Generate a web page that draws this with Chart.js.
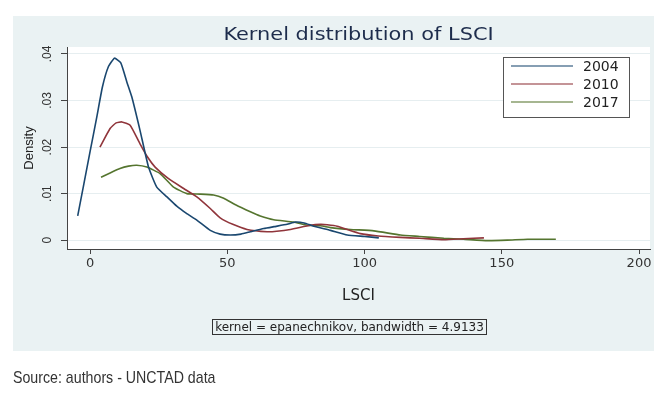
<!DOCTYPE html>
<html>
<head>
<meta charset="utf-8">
<script src="https://cdn.jsdelivr.net/npm/chart.js@4.4.1/dist/chart.umd.min.js"></script>
<style>
  body { margin: 0; background: #fff; }
  #wrap { position: relative; width: 654px; height: 402px; }
  #source {
    position: absolute; left: 13px; top: 368px;
    font: 17px "Liberation Sans Narrow", "Liberation Sans", Arial, sans-serif;
    color: #333;
    white-space: nowrap;
    transform: scaleX(0.835);
    transform-origin: left top;
  }
</style>
</head>
<body>
<div id="wrap">
  <canvas id="kdens" width="654" height="402"></canvas>
  <div id="source">Source: authors - UNCTAD data</div>
</div>
<script>
// density curves
const years = ["2004", "2010", "2017"];

const x2004 = [-4.5, 0, 2.5, 4.5, 6.7, 8.9, 11.2, 13.4, 15.2, 18.2, 21.3, 24.3, 28, 31.6, 35, 38.9, 43.8, 47.4, 51.1, 55, 58.4, 63.3, 67, 71.8, 74.8, 78, 81.5, 87.6, 93.7, 100, 105.2];
const y2004 = [.0052, .019, .0266, .0329, .0373, .0391, .0381, .034, .0308, .0236, .0157, .0114, .0093, .0073, .0058, .0043, .0021, .0013, .0011, .0013, .0018, .0025, .0029, .0034, .0039, .0037, .003, .0021, .0011, .0008, .0005];

const x2010 = [3.6, 7.3, 9.5, 11.6, 14.6, 18.2, 21, 23.7, 28.6, 34.1, 38.9, 43.8, 47.4, 52, 57.2, 64.5, 68, 73, 80.3, 84, 86.4, 90, 98.5, 105, 113.1, 120, 128.9, 136, 143.5];
const y2010 = [.020, .024, .0252, .0254, .0247, .0207, .0178, .0157, .0132, .0111, .0093, .0068, .0048, .0034, .0023, .0018, .0019, .0023, .0032, .0034, .0033, .003, .0014, .0009, .0006, .0004, .0001, .0003, .0005];

const x2017 = [4, 7.5, 10.9, 14, 17, 20.7, 25.5, 30.4, 35.3, 40, 45, 48.7, 53, 58.4, 62, 66.9, 74.2, 79.1, 83.9, 87.6, 94.9, 103.4, 113.1, 120, 128.9, 136, 144.8, 152, 159.4, 169.7];
const y2017 = [.0135, .0145, .0154, .0159, .0161, .0157, .0143, .0114, .0100, .0099, .0097, .009, .0076, .0061, .0052, .0044, .0039, .0032, .0031, .0027, .0023, .002, .0011, .0008, .0004, .0002, -.0001, 0, .0002, .0002];

const xTicks = [0, 50, 100, 150, 200];
const yTicks = [0, .01, .02, .03, .04];
const yTickLabels = ["0", ".01", ".02", ".03", ".04"];

const colors = ["#1a476f", "#90353b", "#55752f"];
const noteText = "kernel = epanechnikov, bandwidth = 4.9133";

function pts(xs, ys) {
    return xs.map((x, i) => ({ x: x, y: ys[i] }));
}

// stata-like panel: light blue page, white plot region
const backdrop = {
    id: "backdrop",
    beforeDraw(chart) {
        const ctx = chart.ctx;
        const a = chart.chartArea;
        ctx.save();
        ctx.fillStyle = "#eaf2f3";
        ctx.fillRect(13, 16, 641, 335);
        ctx.fillStyle = "#ffffff";
        ctx.fillRect(a.left, a.top, a.right - a.left, a.bottom - a.top);
        ctx.restore();
    }
};

const extras = {
    id: "extras",
    afterDraw(chart) {
        const ctx = chart.ctx;
        const a = chart.chartArea;
        const ys = chart.scales.y;
        ctx.save();

        // title (stretched a bit, like the original export)
        ctx.save();
        ctx.fillStyle = "#1d2c4c";
        ctx.font = "18px 'DejaVu Sans'";
        ctx.textAlign = "center";
        ctx.textBaseline = "middle";
        ctx.translate((a.left + a.right) / 2, 35);
        ctx.scale(1.16, 1);
        ctx.fillText("Kernel distribution of LSCI", 0, 0);
        ctx.restore();

        // rotated y tick labels
        ctx.fillStyle = "#333";
        ctx.font = "12px 'Liberation Sans'";
        ctx.textAlign = "center";
        ctx.textBaseline = "middle";
        yTicks.forEach((v, i) => {
            ctx.save();
            ctx.translate(48, ys.getPixelForValue(v));
            ctx.rotate(-Math.PI / 2);
            ctx.fillText(yTickLabels[i], 0, 0);
            ctx.restore();
        });

        // legend box
        ctx.fillStyle = "#fff";
        ctx.fillRect(503.5, 57.5, 126, 60);
        ctx.strokeStyle = "#555";
        ctx.lineWidth = 1;
        ctx.strokeRect(503.5, 57.5, 126, 60);
        ctx.font = "14px 'DejaVu Sans'";
        ctx.textAlign = "left";
        chart.data.datasets.forEach((ds, i) => {
            const ly = 66 + 18 * i;
            ctx.strokeStyle = ds.borderColor;
            ctx.globalAlpha = 0.7;
            ctx.lineWidth = 1.5;
            ctx.beginPath();
            ctx.moveTo(511, ly);
            ctx.lineTo(573, ly);
            ctx.stroke();
            ctx.globalAlpha = 1;
            ctx.fillStyle = "#222";
            ctx.fillText(ds.label, 583, ly + 1);
        });

        // note box
        ctx.fillStyle = "#eaf2f3";
        ctx.fillRect(212.5, 319.5, 274, 15);
        ctx.strokeStyle = "#333";
        ctx.lineWidth = 1;
        ctx.strokeRect(212.5, 319.5, 274, 15);
        ctx.fillStyle = "#222";
        ctx.font = "12px 'DejaVu Sans'";
        ctx.textAlign = "center";
        ctx.fillText(noteText, 349.5, 327.5);

        ctx.restore();
    }
};

const ctx = document.getElementById("kdens").getContext("2d");
const chart = new Chart(ctx, {
    type: "line",
    data: {
        datasets: [
            { label: years[0], data: pts(x2004, y2004), borderColor: colors[0] },
            { label: years[1], data: pts(x2010, y2010), borderColor: colors[1] },
            { label: years[2], data: pts(x2017, y2017), borderColor: colors[2] }
        ]
    },
    options: {
        responsive: false,
        animation: false,
        events: [],
        layout: { padding: { left: 13, right: 4, top: 47, bottom: 93 } },
        elements: {
            line: { borderWidth: 1.6, tension: 0.15, fill: false },
            point: { radius: 0 }
        },
        plugins: {
            legend: { display: false },
            tooltip: { enabled: false }
        },
        scales: {
            x: {
                type: "linear",
                min: -8.4,
                max: 204,
                afterBuildTicks: s => { s.ticks = xTicks.map(v => ({ value: v })); },
                afterFit: s => { s.height = 60; },
                ticks: {
                    color: "#333",
                    padding: 2,
                    font: { family: "DejaVu Sans", size: 13 }
                },
                grid: {
                    drawOnChartArea: false,
                    drawTicks: true,
                    tickLength: 5,
                    tickColor: "#444"
                },
                border: { display: true, color: "#444", width: 1 },
                title: {
                    display: true,
                    text: "LSCI",
                    color: "#222",
                    font: { family: "DejaVu Sans", size: 15 },
                    padding: { top: 0, bottom: 4 }
                }
            },
            y: {
                min: -0.0019,
                max: 0.0415,
                afterBuildTicks: s => { s.ticks = yTicks.map(v => ({ value: v })); },
                afterFit: s => { s.width = 54; },
                ticks: { display: false },
                grid: {
                    color: "#e6eef0",
                    lineWidth: 1,
                    drawTicks: true,
                    tickLength: 6,
                    tickColor: "#444"
                },
                border: { display: true, color: "#444", width: 1 },
                title: {
                    display: true,
                    text: "Density",
                    color: "#222",
                    font: { family: "Liberation Sans", size: 13 },
                    padding: { top: 9, bottom: 0 }
                }
            }
        }
    },
    plugins: [backdrop, extras]
});
</script>
</body>
</html>
